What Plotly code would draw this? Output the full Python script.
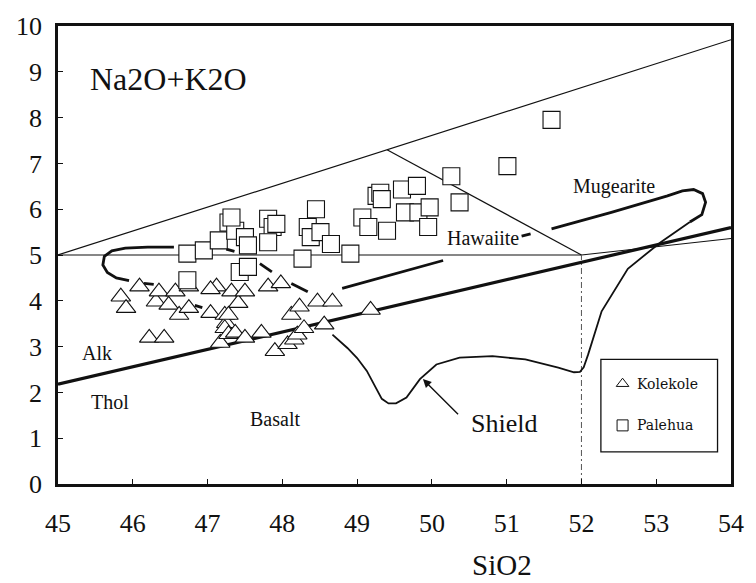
import plotly.graph_objects as go

# ---- Sample compositions (wt%) ----
kolekole_sio2 = [45.84, 45.91, 46.09, 46.22, 46.31, 46.35, 46.42, 46.48, 46.57, 46.62,
                 46.75, 46.75, 47.04, 47.12, 47.17, 47.23, 47.25, 47.23, 47.28, 47.32,
                 47.37, 47.41, 47.50, 47.50, 47.72, 47.81, 47.98, 47.90, 48.07, 48.16,
                 48.20, 48.29, 48.12, 48.23, 48.47, 48.67, 48.56, 49.18, 47.28, 47.04]
kolekole_alk = [4.09, 3.84, 4.31, 3.19, 3.98, 4.20, 3.19, 3.91, 4.20, 3.69,
                4.31, 3.84, 3.73, 4.31, 3.08, 3.69, 3.51, 3.40, 3.27, 4.20,
                3.30, 3.95, 4.20, 3.19, 3.30, 4.31, 4.38, 2.90, 3.05, 3.15,
                3.26, 3.40, 3.69, 3.87, 3.98, 3.98, 3.48, 3.80, 3.69, 4.25]

palehua_sio2 = [46.73, 46.95, 47.15, 47.28, 47.37, 47.50, 47.54, 47.81, 47.87, 47.92,
                47.81, 47.43, 47.54, 46.73, 48.27, 48.34, 48.45, 48.38, 48.51, 48.65,
                48.91, 49.07, 49.15, 49.26, 49.40, 49.31, 49.33, 49.60, 49.80, 49.64,
                49.82, 49.97, 49.95, 50.26, 50.37, 51.01, 51.60, 47.32]
palehua_alk = [5.03, 5.10, 5.32, 5.71, 5.53, 5.39, 5.21, 5.79, 5.61, 5.68,
               5.28, 4.63, 4.74, 4.45, 4.92, 5.61, 6.00, 5.39, 5.50, 5.24,
               5.03, 5.82, 5.61, 6.29, 5.53, 6.36, 6.22, 6.43, 6.51, 5.93,
               5.93, 6.04, 5.61, 6.72, 6.15, 6.94, 7.95, 5.82]

# ---- Classification boundaries ----
upper_x = [45, 49.4, 54]
upper_y = [5.0, 7.3, 9.7]
base_x = [45, 52, 54]
base_y = [5.0, 5.0, 5.36]
haw_mug_x = [49.4, 52]
haw_mug_y = [7.3, 5.0]
split_x = [52, 52]
split_y = [0, 5.0]
alk_thol_x = [45, 54]
alk_thol_y = [2.18, 5.60]

# ---- Shield field outline ----
shield_c_x = [46.55, 46.2, 45.9, 45.72, 45.62, 45.6, 45.66, 45.78, 45.95]
shield_c_y = [5.17, 5.17, 5.15, 5.09, 4.97, 4.78, 4.62, 4.50, 4.44]

shield_low_x = [48.67, 48.87, 49.00, 49.13, 49.26, 49.33, 49.42, 49.52, 49.66, 49.84,
                50.06, 50.37, 50.81, 51.25, 51.69, 51.90, 51.98, 52.03, 52.09, 52.27,
                52.62, 53.06, 53.45]
shield_low_y = [3.26, 2.97, 2.75, 2.47, 2.07, 1.86, 1.76, 1.76, 1.89, 2.29,
                2.61, 2.76, 2.79, 2.72, 2.54, 2.44, 2.45, 2.55, 2.83, 3.77,
                4.70, 5.28, 5.72]

shield_loop_x = [51.60, 52.40, 53.15, 53.35, 53.50, 53.62, 53.66, 53.61, 53.45]
shield_loop_y = [5.57, 5.93, 6.29, 6.40, 6.43, 6.34, 6.15, 5.88, 5.72]

shield_dash_x = [47.25, 47.36, None, 47.70, 47.86, None, 48.12, 48.34, None,
                 48.80, 50.15, None, 51.20, 51.32, None,
                 46.15, 46.28, None, 46.83, 46.93]
shield_dash_y = [5.13, 5.08, None, 4.81, 4.63, None, 4.38, 4.20, None,
                 4.27, 4.88, None, 5.41, 5.46, None,
                 4.38, 4.36, None, 3.90, 3.85]

INK = "#111111"
SERIF = "Liberation Serif"

fig = go.Figure()


def line(x, y, width, dash="solid", color=INK):
    fig.add_trace(go.Scatter(x=x, y=y, mode="lines", showlegend=False,
                             hoverinfo="skip", connectgaps=False,
                             line=dict(color=color, width=width, dash=dash)))


line(upper_x, upper_y, 1.2)
line(base_x, base_y, 1.2)
line(haw_mug_x, haw_mug_y, 1.2)
line(split_x, split_y, 1, dash="6px,3px,2px,3px", color="#555555")
line(alk_thol_x, alk_thol_y, 3.2)
line(shield_c_x, shield_c_y, 2.8)
line(shield_low_x, shield_low_y, 1.8)
line(shield_loop_x, shield_loop_y, 2.8)
line(shield_dash_x, shield_dash_y, 2.8)

fig.add_trace(go.Scatter(
    x=kolekole_sio2, y=kolekole_alk, mode="markers", name="Kolekole",
    showlegend=False,
    marker=dict(symbol="triangle-up", size=17, color="white",
                line=dict(color=INK, width=1.1))))
fig.add_trace(go.Scatter(
    x=palehua_sio2, y=palehua_alk, mode="markers", name="Palehua",
    showlegend=False,
    marker=dict(symbol="square", size=17, color="white",
                line=dict(color=INK, width=1.1))))

# Legend box drawn inside the plot
legend_x = [52.55, 52.55]
legend_y = [2.19, 1.28]
legend_names = ["Kolekole", "Palehua"]
legend_symbols = ["triangle-up-open", "square-open"]
fig.add_shape(type="rect", x0=52.26, x1=53.82, y0=0.70, y1=2.72,
              line=dict(color=INK, width=1.3), fillcolor="white", layer="below")
for lx, ly, nm, sym in zip(legend_x, legend_y, legend_names, legend_symbols):
    fig.add_trace(go.Scatter(x=[lx], y=[ly], mode="markers", showlegend=False,
                             hoverinfo="skip",
                             marker=dict(symbol=sym, size=11, color=INK,
                                         line=dict(width=1))))
    fig.add_annotation(x=52.71, y=ly, text=nm, showarrow=False, xanchor="left",
                       font=dict(family="DejaVu Serif", size=14, color=INK))

labels = [
    ("Na2O+K2O", 45.40, 8.85, 32, "left"),
    ("Mugearite", 52.44, 6.49, 20, "center"),
    ("Hawaiite", 50.69, 5.37, 20, "center"),
    ("Alk", 45.52, 2.86, 20, "center"),
    ("Thol", 45.69, 1.78, 20, "center"),
    ("Basalt", 47.90, 1.42, 20, "center"),
]
for txt, x, y, sz, anc in labels:
    fig.add_annotation(x=x, y=y, text=txt, showarrow=False, xanchor=anc,
                       font=dict(family=SERIF, size=sz, color=INK))

fig.add_annotation(x=49.88, y=2.29, ax=50.37, ay=1.49, axref="x", ayref="y",
                   text="", showarrow=True, arrowhead=2, arrowsize=1.2,
                   arrowwidth=1.4, arrowcolor=INK, standoff=0)
fig.add_annotation(x=50.50, y=1.32, text="Shield", showarrow=False, xanchor="left",
                   font=dict(family=SERIF, size=26, color=INK))

# x-axis title, set to the right of centre under the axis
fig.add_annotation(x=0.659, y=0, xref="paper", yref="paper", yshift=-81,
                   text="SiO2", showarrow=False, xanchor="center", yanchor="middle",
                   font=dict(family=SERIF, size=29, color=INK))

axis_common = dict(showgrid=False, zeroline=False, showline=True, mirror=True,
                   linecolor=INK, linewidth=2.5, ticks="inside", ticklen=5,
                   tickwidth=1, tickcolor=INK,
                   tickfont=dict(family=SERIF, size=26, color=INK))

fig.update_xaxes(range=[45, 54], tickvals=list(range(45, 55)),
                 ticklabelstandoff=14, **axis_common)
fig.update_yaxes(range=[0, 10], tickvals=list(range(0, 11)),
                 ticklabelstandoff=8, **axis_common)

fig.update_layout(width=756, height=583, plot_bgcolor="white", paper_bgcolor="white",
                  margin=dict(l=58, r=18, t=22, b=99), showlegend=False,
                  font=dict(family=SERIF, color=INK))

fig.write_html("out.html")
